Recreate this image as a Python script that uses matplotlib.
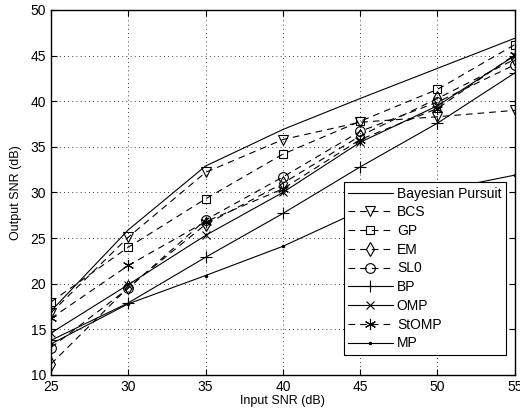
import matplotlib
matplotlib.use("Agg")
import matplotlib.pyplot as plt

plt.rcParams['font.family'] = ['Liberation Sans', 'DejaVu Sans']

snr_in = [25, 30, 35, 40, 45, 50, 55]

bayes = [17.0, 25.9, 32.9, 36.9, 40.3, 43.6, 46.9]
bcs = [16.8, 25.1, 32.2, 35.8, 37.7, 38.3, 39.0]
gp = [18.0, 24.0, 29.3, 34.2, 37.8, 41.3, 46.2]
em = [11.2, 19.6, 26.5, 31.0, 36.2, 40.3, 44.6]
sl0 = [13.0, 19.5, 27.0, 31.7, 36.7, 39.9, 44.0]
bp = [13.8, 17.9, 22.9, 27.7, 32.8, 37.6, 43.1]
omp = [14.6, 19.9, 25.3, 30.0, 35.5, 39.5, 45.0]
stomp = [16.2, 22.0, 26.8, 30.4, 35.8, 39.2, 45.1]
mp = [13.4, 17.8, 20.9, 24.1, 28.0, 30.2, 31.9]

fig = plt.figure(figsize=(5.2, 4.15), dpi=100)
ax = fig.add_axes([0.098, 0.0964, 0.892, 0.8796])

dash = (0, (6, 4.5))
aster = (6, 2, 0)
lw = 0.8

ax.plot(snr_in, bayes, '-', color='k', lw=lw, label='Bayesian Pursuit')
ax.plot(snr_in, bcs, linestyle=dash, color='k', lw=lw, marker='v', ms=7,
        mfc='none', mew=0.8, label='BCS')
ax.plot(snr_in, gp, linestyle=dash, color='k', lw=lw, marker='s', ms=6,
        mfc='none', mew=0.8, label='GP')
ax.plot(snr_in, em, linestyle=dash, color='k', lw=lw, marker='d', ms=7,
        mfc='none', mew=0.8, label='EM')
ax.plot(snr_in, sl0, linestyle=dash, color='k', lw=lw, marker='o', ms=7,
        mfc='none', mew=0.8, label='SL0')
ax.plot(snr_in, bp, '-', color='k', lw=lw, marker='+', ms=8, mew=0.8, label='BP')
ax.plot(snr_in, omp, '-', color='k', lw=lw, marker='x', ms=6, mew=0.8, label='OMP')
ax.plot(snr_in, stomp, linestyle=dash, color='k', lw=lw, marker=aster, ms=8,
        mew=0.8, label='StOMP')
ax.plot(snr_in, mp, '-', color='k', lw=lw, marker='.', ms=3, label='MP')

ax.set_xlim(25, 55)
ax.set_ylim(10, 50)
ax.set_xticks([25, 30, 35, 40, 45, 50, 55])
ax.set_yticks([10, 15, 20, 25, 30, 35, 40, 45, 50])
ax.tick_params(direction='in', top=True, right=True, labelsize=10, length=4, width=0.8)
ax.grid(True, linestyle=(0, (1, 4)), color='k', lw=0.6)
for s in ax.spines.values():
    s.set_linewidth(1.0)

ax.set_xlabel('Input SNR (dB)', fontsize=9, labelpad=1)
ax.set_ylabel('Output SNR (dB)', fontsize=9, labelpad=6)

leg = ax.legend(loc='lower right', bbox_to_anchor=(0.995, 0.037), fontsize=10,
                handlelength=3.2, handletextpad=0.3, labelspacing=0.34,
                borderpad=0.3, fancybox=False, framealpha=1, edgecolor='k')
leg.get_frame().set_linewidth(0.8)

fig.savefig('out.png', dpi=100)
